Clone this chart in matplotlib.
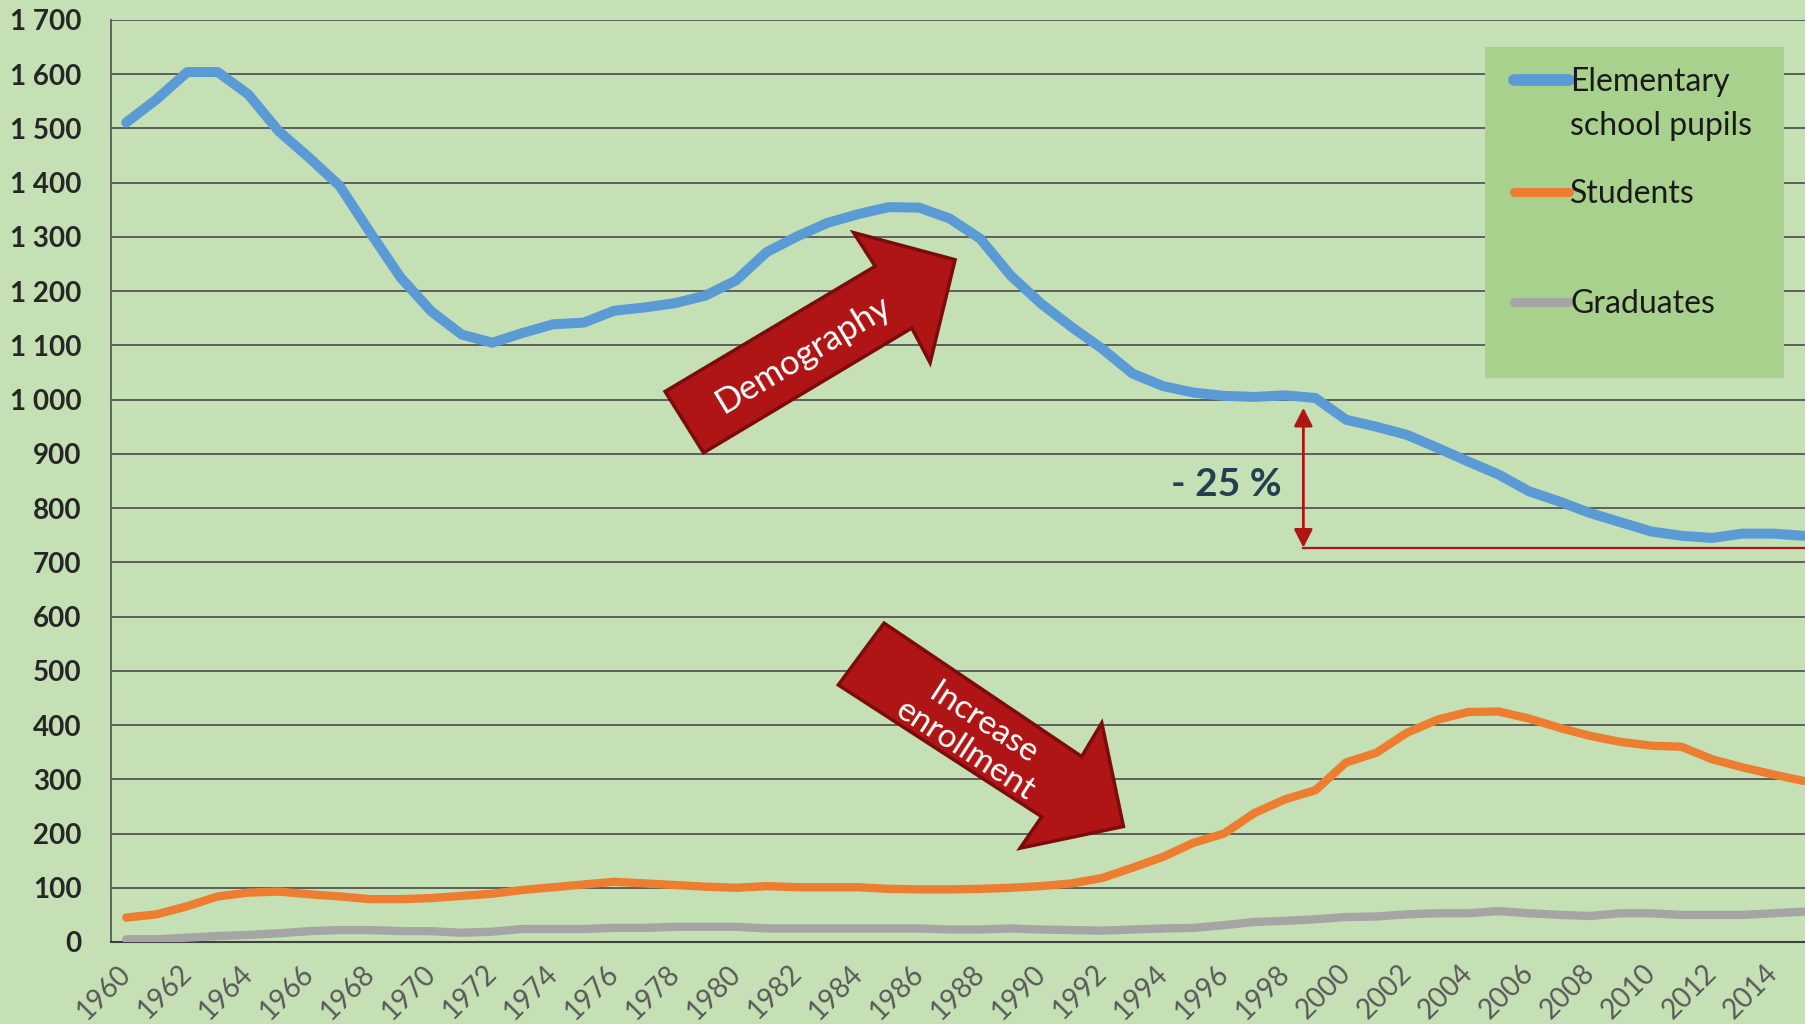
import matplotlib
matplotlib.use("Agg")
import matplotlib.pyplot as plt
from matplotlib.patches import Polygon, Rectangle
from matplotlib.lines import Line2D
from matplotlib.ticker import FuncFormatter, MultipleLocator
import matplotlib.transforms as mtransforms

plt.rcParams['font.family'] = ['Lato', 'DejaVu Sans']

# ---------- data ----------
years = list(range(1960, 2016))

pupils = [1511, 1554, 1604, 1604, 1563, 1495, 1446, 1394, 1308, 1225,
          1163, 1120, 1105, 1123, 1139, 1142, 1164, 1170, 1178, 1192,
          1220, 1272, 1301, 1326, 1342, 1355, 1354, 1334, 1297, 1229,
          1177, 1134, 1094, 1048, 1025, 1013, 1007, 1005, 1008, 1003,
          963, 950, 935, 911, 886, 862, 831, 812, 791, 774,
          757, 749, 745, 753, 753, 749]

students = [45, 51, 66, 84, 91, 93, 88, 84, 79, 79,
            81, 85, 89, 96, 101, 106, 111, 108, 105, 102,
            100, 103, 101, 101, 101, 98, 97, 97, 98, 100,
            103, 108, 118, 137, 157, 183, 200, 238, 263, 280,
            331, 349, 386, 410, 424, 425, 412, 395, 380, 369,
            362, 360, 337, 322, 309, 297]

graduates = [5, 5, 8, 11, 13, 16, 20, 22, 22, 20,
             20, 17, 19, 24, 24, 24, 26, 26, 28, 28,
             28, 25, 25, 25, 25, 25, 25, 23, 23, 25,
             23, 22, 21, 23, 25, 26, 31, 37, 39, 42,
             46, 47, 51, 53, 53, 57, 53, 50, 48, 53,
             53, 50, 50, 50, 53, 56]

series_names = ["Elementary\nschool pupils", "Students", "Graduates"]
series_colors = ["#5B9BD5", "#ED7D31", "#A5A5A5"]
tick_years = list(range(1960, 2015, 2))

# annotation shapes, in (year, value)
demography_arrow = [(1977.67, 1015), (1984.56, 1246), (1983.85, 1308), (1987.18, 1258),
                    (1986.36, 1068), (1985.76, 1132), (1978.93, 902)]
enrollment_arrow = [(1984.85, 588), (1991.33, 342), (1991.99, 404), (1992.70, 213),
                    (1989.31, 173), (1990.02, 231), (1983.35, 474)]
drop_year = 1998.6
drop_top, drop_bottom = 985, 727

BG = "#C5E0B4"
W, H = 1805, 1024

fig = plt.figure(figsize=(W / 100, H / 100), dpi=100, facecolor=BG)
ax = fig.add_axes([111 / W, (H - 942) / H, (W - 111) / W, (942 - 20) / H])
ax.set_facecolor(BG)

# lines
ax.plot(years, graduates, color=series_colors[2], lw=6, solid_joinstyle='round',
        solid_capstyle='round', zorder=3)
ax.plot(years, students, color=series_colors[1], lw=6, solid_joinstyle='round',
        solid_capstyle='round', zorder=3)
ax.plot(years, pupils, color=series_colors[0], lw=7.2, solid_joinstyle='round',
        solid_capstyle='round', zorder=3)

ax.set_xlim(1959.5, 2015.05)
ax.set_ylim(0, 1700)
ax.yaxis.set_major_locator(MultipleLocator(100))
ax.yaxis.set_major_formatter(FuncFormatter(lambda v, p: f"{int(v):,}".replace(",", " ")))
ax.grid(axis='y', color='#555555', lw=1.3, zorder=1)
ax.set_axisbelow(True)
for s in ['top', 'right']:
    ax.spines[s].set_visible(False)
ax.spines['left'].set_color('#595959')
ax.spines['left'].set_linewidth(1.3)
ax.spines['bottom'].set_color('#404040')
ax.spines['bottom'].set_linewidth(1.5)
ax.tick_params(axis='y', length=0, pad=21, labelsize=20, labelcolor='#262626')
ax.tick_params(axis='x', length=0, pad=13, labelsize=20, labelcolor='#595959')
for lab in ax.get_yticklabels():
    lab.set_fontweight('bold')

ax.set_xticks(tick_years)
ax.set_xticklabels([str(y) for y in tick_years], rotation=45, ha='right')
offset = mtransforms.ScaledTranslation(10 / 100, 0, fig.dpi_scale_trans)
for lab in ax.get_xticklabels():
    lab.set_transform(lab.get_transform() + offset)

# block arrows
ax.add_patch(Polygon(demography_arrow, closed=True, facecolor='#AF1515',
                     edgecolor='#7A0C0C', lw=2.5, zorder=5))
ax.add_patch(Polygon(enrollment_arrow, closed=True, facecolor='#AF1515',
                     edgecolor='#7A0C0C', lw=2.5, zorder=5))
ax.text(1982.2, 1083, "Demography", color='white', fontsize=25,
        rotation=31, ha='center', va='center', rotation_mode='anchor', zorder=6)
ax.text(1987.8, 378, "Increase\nenrollment", color='white', fontsize=24,
        rotation=-33, ha='center', va='center', rotation_mode='anchor', linespacing=1.1,
        multialignment='center', zorder=6)

# -25 % marker
ax.annotate('', xy=(drop_year, drop_bottom), xytext=(drop_year, drop_top),
            arrowprops=dict(arrowstyle='<|-|>,head_length=0.55,head_width=0.28',
                            color='#B01515', lw=2, mutation_scale=20,
                            shrinkA=0, shrinkB=0), zorder=6)
ax.plot([drop_year, 2015.05], [drop_bottom, drop_bottom], color='#B01515', lw=1.6,
        zorder=6, clip_on=False)
ax.text(1997.9, 843, "- 25 %", color='#243F50', fontsize=28, fontweight='bold',
        ha='right', va='center', zorder=6)

# legend
def fx(px):
    return px / W


def fy(py):
    return 1 - py / H


fig.patches.append(Rectangle((fx(1485), fy(378)), fx(1784) - fx(1485), fy(47) - fy(378),
                             transform=fig.transFigure, facecolor='#A9D18E',
                             edgecolor='none', zorder=10))
leg_y = [80, 192, 302]
leg_lw = [8.5, 6.5, 6.5]
for name, col, y, lw in zip(series_names, series_colors, leg_y, leg_lw):
    fig.lines.append(Line2D([fx(1514), fx(1569)], [fy(y), fy(y)], transform=fig.transFigure,
                            color=col, lw=lw, solid_capstyle='round', zorder=11))
    fig.text(fx(1570), fy(y - 13), name, fontsize=23, color='#1a1a1a', ha='left', va='top',
             linespacing=1.6, zorder=12)

fig.savefig("out.png", dpi=100, facecolor=BG)
